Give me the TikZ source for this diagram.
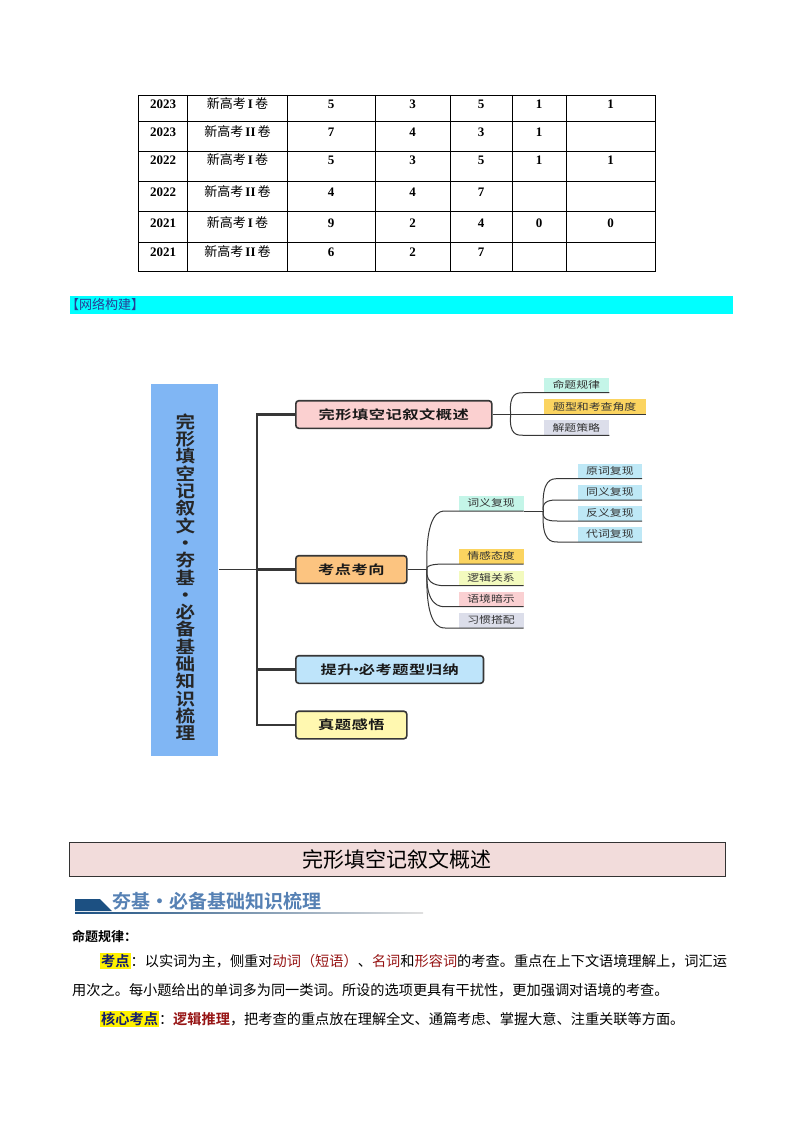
\documentclass[tikz,border=0pt]{standalone}
\usepackage{fontspec}
\setmainfont{Liberation Serif}
\newfontfamily\cjk{Noto Sans CJK SC}[BoldFont={Noto Sans CJK SC Bold}]
\newfontfamily\mapfont{Noto Sans CJK SC}[FakeStretch=1.25]
\newfontfamily\mapbold{Noto Sans CJK SC Bold}[FakeStretch=1.3,LetterSpace=4]
\newfontfamily\mapspine{Noto Sans CJK SC Bold}[FakeStretch=1.15]
\usetikzlibrary{calc}

\definecolor{linegray}{RGB}{55,55,55}
\definecolor{rootblue}{RGB}{128,182,244}
\definecolor{pinkbox}{RGB}{251,208,208}
\definecolor{orangebox}{RGB}{252,196,128}
\definecolor{skybox}{RGB}{190,228,250}
\definecolor{yellowbox}{RGB}{255,248,176}
\definecolor{mintleaf}{RGB}{196,245,232}
\definecolor{goldleaf}{RGB}{251,212,96}
\definecolor{lilacleaf}{RGB}{220,222,234}
\definecolor{limeleaf}{RGB}{243,250,190}
\definecolor{pinkleaf}{RGB}{250,208,210}
\definecolor{blueleaf}{RGB}{190,232,246}
\definecolor{barcyan}{RGB}{0,255,255}
\definecolor{netblue}{RGB}{40,60,150}
\definecolor{headpink}{RGB}{242,220,219}
\definecolor{headblue}{RGB}{28,80,130}
\definecolor{titleblue}{RGB}{86,129,180}
\definecolor{wordred}{RGB}{150,20,20}
\definecolor{navyword}{RGB}{20,30,110}

\newcommand\hilite[1]{{\setlength\fboxsep{1pt}\colorbox{yellow}{\textcolor{navyword}{\bfseries #1}}}}
\newcommand\tightdot{\kern-5.5pt·\kern-5.5pt}

\begin{document}
\begin{tikzpicture}[x=1pt,y=1pt,
  gridline/.style={line width=0.8pt},
  cell/.style={inner sep=0pt},
  branch/.style={draw=linegray,line width=1.6pt,rounded corners=3pt,
    minimum height=27.6pt,inner sep=0pt,anchor=west,
    font=\mapbold\fontsize{12.5}{14}\selectfont,text=black!90},
  leaf/.style={minimum height=15pt,inner sep=0pt,anchor=south west,
    font=\mapfont\fontsize{9.5}{10}\selectfont,text=black!80},
  trunk/.style={draw=linegray,line width=2.6pt},
  twig/.style={draw=linegray,line width=1pt},
  para/.style={anchor=west,inner sep=0pt,font=\cjk\fontsize{14.2}{16}\selectfont}]

\useasboundingbox (0,0) rectangle (794,-1123);

% table
\draw[gridline] (138,-95) rectangle (655,-271);
\foreach \x in {187,287.5,375,450,512,566}
  \draw[gridline] (\x,-95) -- (\x,-271);
\foreach \y in {121.7,151,181.6,211.7,242.3}
  \draw[gridline] (138,-\y) -- (655,-\y);
\foreach \yr/\vol/\a/\b/\c/\d/\e/\ty [count=\r] in
  {2023/I/5/3/5/1/1/104, 2023/II/7/4/3/1//132, 2022/I/5/3/5/1/1/160,
   2022/II/4/4/7///192, 2021/I/9/2/4/0/0/223, 2021/II/6/2/7///252}{
  \node[cell,font=\bfseries\fontsize{13}{15}\selectfont] (yr\r) at (163,-\ty) {\yr};
  \node[cell,font=\cjk\fontsize{13}{15}\selectfont] (vol\r) at (237.5,-\ty)
    {新高考\,{\rmfamily\bfseries\vol}\,卷};
  \node[cell,font=\bfseries\fontsize{13}{15}\selectfont] (a\r) at (331,-\ty) {\a};
  \node[cell,font=\bfseries\fontsize{13}{15}\selectfont] (b\r) at (412.5,-\ty) {\b};
  \node[cell,font=\bfseries\fontsize{13}{15}\selectfont] (c\r) at (481,-\ty) {\c};
  \node[cell,font=\bfseries\fontsize{13}{15}\selectfont] (d\r) at (539,-\ty) {\d};
  \node[cell,font=\bfseries\fontsize{13}{15}\selectfont] (e\r) at (610.5,-\ty) {\e};
}

\node[fill=barcyan,minimum width=663pt,minimum height=18pt,inner sep=0pt,anchor=west] (bar) at (70,-305) {};
\node[anchor=west,inner sep=0pt,text=netblue,font=\cjk\fontsize{13}{15}\selectfont] (net) at ([xshift=-4pt]bar.west) {【网络构建】};

% mind map
\node[fill=rootblue,minimum width=67.6pt,minimum height=372pt,inner sep=0pt] (root) at (184.5,-569.5) {};
\node[align=center,inner sep=0pt,text=black!85,font=\mapspine\fontsize{17}{17.3}\selectfont] (rootlabel) at (185.5,-577.2)
  {完\\形\\填\\空\\记\\叙\\文\\·\\夯\\基\\·\\必\\备\\基\\础\\知\\识\\梳\\理};
\coordinate (spine) at (257,-569.5);

\node[branch,fill=pinkbox,minimum width=196pt] (overview) at (295,-414.5) {完形填空记叙文概述};
\node[branch,fill=orangebox,minimum width=111pt] (points) at (295,-569.5) {考点考向};
\node[branch,fill=skybox,minimum width=187.7pt] (types) at (295,-669.5) {提升\tightdot 必考题型归纳};
\node[branch,fill=yellowbox,minimum width=111pt] (real) at (295,-725) {真题感悟};

\draw[draw=linegray,line width=1.6pt] (root.east) -- (spine);
\draw[trunk] (overview.west) -| (spine) |- (real.west);
\draw[trunk] (points.west) -- (spine);
\draw[trunk] (types.west) -- (types.west -| spine);

\coordinate (f1) at (510.7,-414.5);
\node[leaf,fill=mintleaf,minimum width=65.7pt] (law) at (543.3,-392.7) {命题规律};
\node[leaf,fill=goldleaf,minimum width=102.4pt] (angle) at (543.3,-414.5) {题型和考查角度};
\node[leaf,fill=lilacleaf,minimum width=65.7pt] (tactic) at (543.3,-435.3) {解题策略};
\draw[twig] (overview.east) -- (f1);
\foreach \leaf in {law,angle,tactic}
  \draw[twig] (f1) .. controls ([xshift=-2pt]f1 |- \leaf.south) and ([xshift=-26pt]\leaf.south west)
    .. ([xshift=-20pt]\leaf.south west) -- (\leaf.south east);

\coordinate (f2) at (427,-569.5);
\node[leaf,fill=mintleaf,minimum width=65pt] (meaning) at (458.3,-511) {词义复现};
\node[leaf,fill=goldleaf,minimum width=65pt] (feeling) at (458.3,-564) {情感态度};
\node[leaf,fill=limeleaf,minimum width=65pt] (logic) at (458.3,-585.7) {逻辑关系};
\node[leaf,fill=pinkleaf,minimum width=65pt] (context) at (458.3,-606.7) {语境暗示};
\node[leaf,fill=lilacleaf,minimum width=65pt] (habit) at (458.3,-628) {习惯搭配};
\draw[twig] (points.east) -- (f2);
\foreach \leaf in {meaning,feeling,logic,context,habit}
  \draw[twig] (f2) .. controls ([xshift=-2pt]f2 |- \leaf.south) and ([xshift=-18pt]\leaf.south west)
    .. ([xshift=-13pt]\leaf.south west) -- (\leaf.south east);

\coordinate (f3) at (543.3,-511);
\node[leaf,fill=blueleaf,minimum width=64pt] (orig) at (577.7,-478.7) {原词复现};
\node[leaf,fill=blueleaf,minimum width=64pt] (syn) at (577.7,-500) {同义复现};
\node[leaf,fill=blueleaf,minimum width=64pt] (anto) at (577.7,-521) {反义复现};
\node[leaf,fill=blueleaf,minimum width=64pt] (pron) at (577.7,-542) {代词复现};
\draw[twig] (meaning.south east) -- (f3);
\foreach \leaf in {orig,syn,anto,pron}
  \draw[twig] (f3) .. controls ([xshift=-2pt]f3 |- \leaf.south) and ([xshift=-26pt]\leaf.south west)
    .. ([xshift=-20pt]\leaf.south west) -- (\leaf.south east);

% section head
\node[draw=black!80,fill=headpink,minimum width=656pt,minimum height=34pt,anchor=north west,inner sep=0pt,
  font=\cjk\fontsize{21}{24}\selectfont] (head) at (69,-842) {完形填空记叙文概述};
\fill[headblue] (75,-899) -- (100,-899) -- (112,-911) -- (75,-911) -- cycle;
\shade[left color=headblue,right color=gray!25] (75,-912.4) rectangle (423,-913.8);
\node[anchor=west,inner sep=0pt,text=titleblue,font=\cjk\bfseries\fontsize{19}{22}\selectfont] (basics) at (112,-901)
  {夯基・必备基础知识梳理};

\node[para,font=\cjk\bfseries\fontsize{13}{15}\selectfont] (lawtitle) at (72,-936) {命题规律：};
\node[para] (line1) at (100,-961)
  {\hilite{考点}：以实词为主，侧重对\textcolor{wordred}{动词（短语）}、\textcolor{wordred}{名词}和\textcolor{wordred}{形容词}的考查。重点在上下文语境理解上，词汇运};
\node[para] (line2) at (72,-990)
  {用次之。每小题给出的单词多为同一类词。所设的选项更具有干扰性，更加强调对语境的考查。};
\node[para] (line3) at (100,-1019)
  {\hilite{核心考点}：\textcolor{wordred}{\bfseries 逻辑推理}，把考查的重点放在理解全文、通篇考虑、掌握大意、注重关联等方面。};
\end{tikzpicture}
\end{document}
